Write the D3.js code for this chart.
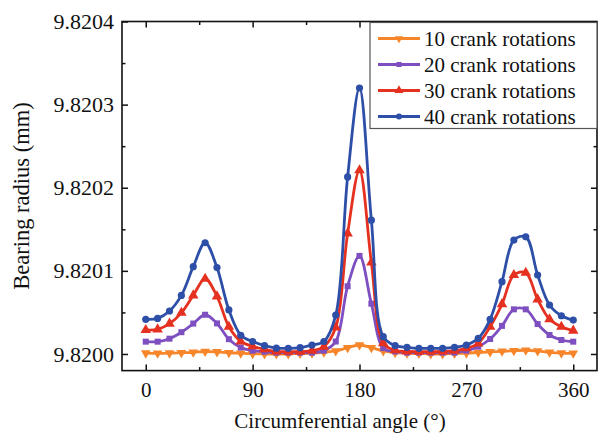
<!DOCTYPE html>
<html><head><meta charset="utf-8">
<script src="https://cdn.jsdelivr.net/npm/d3@7"></script>
<style>
body{margin:0;background:#fff}
svg{display:block}
text{font-family:"Liberation Serif","Times New Roman",serif;fill:#111}
</style>
</head><body>
<svg id="c" width="601" height="438"></svg>
<script>
// ---- data ----
const angles = [0,10,20,30,40,50,60,70,80,90,100,110,120,130,140,150,160,170,180,190,200,210,220,230,240,250,260,270,280,290,300,310,320,330,340,350,360];
const rot10 = [9.8200010,9.8200008,9.8200010,9.8200015,9.8200020,9.8200030,9.8200025,9.8200015,9.8200008,9.8200002,9.8200000,9.8200000,9.8200000,9.8200005,9.8200010,9.8200020,9.8200036,9.8200076,9.8200108,9.8200076,9.8200036,9.8200015,9.8200010,9.8200005,9.8200000,9.8200000,9.8200005,9.8200010,9.8200018,9.8200025,9.8200032,9.8200040,9.8200045,9.8200035,9.8200020,9.8200010,9.8200008];
const rot20 = [9.8200148,9.8200148,9.8200184,9.8200262,9.8200366,9.8200472,9.8200368,9.8200178,9.8200078,9.8200040,9.8200028,9.8200016,9.8200016,9.8200016,9.8200016,9.8200040,9.8200150,9.8200815,9.8201180,9.8200605,9.8200070,9.8200030,9.8200016,9.8200016,9.8200016,9.8200016,9.8200016,9.8200040,9.8200088,9.8200180,9.8200338,9.8200537,9.8200537,9.8200360,9.8200228,9.8200168,9.8200148];
const rot30 = [9.8200288,9.8200296,9.8200365,9.8200495,9.8200705,9.8200905,9.8200693,9.8200328,9.8200152,9.8200092,9.8200056,9.8200030,9.8200028,9.8200028,9.8200040,9.8200088,9.8200320,9.8201450,9.8202210,9.8201100,9.8200130,9.8200045,9.8200030,9.8200028,9.8200028,9.8200030,9.8200040,9.8200068,9.8200128,9.8200328,9.8200600,9.8200950,9.8200977,9.8200657,9.8200417,9.8200328,9.8200280];
const rot40 = [9.8200417,9.8200428,9.8200517,9.8200705,9.8201050,9.8201338,9.8201040,9.8200530,9.8200225,9.8200150,9.8200100,9.8200070,9.8200068,9.8200076,9.8200108,9.8200150,9.8200468,9.8202130,9.8203200,9.8201610,9.8200208,9.8200100,9.8200080,9.8200068,9.8200068,9.8200068,9.8200080,9.8200108,9.8200188,9.8200417,9.8200870,9.8201370,9.8201410,9.8200950,9.8200589,9.8200460,9.8200408];
const seriesNames = ["10 crank rotations","20 crank rotations","30 crank rotations","40 crank rotations"];
const seriesColors = ["#F7862A","#7D4FC0","#E5311F","#2E4FA8"];
const seriesMarkers = ["triDown","square","triUp","circle"];
const xTicks = [0,90,180,270,360];
const xMinor = [45,135,225,315];
const yTicks = [9.8200,9.8201,9.8202,9.8203,9.8204];
const yTickLabels = ["9.8200","9.8201","9.8202","9.8203","9.8204"];
const yMinor = [9.82005,9.82015,9.82025,9.82035];
const xTitle = "Circumferential angle (°)";
const yTitle = "Bearing radius (mm)";

const seriesValues = [rot10, rot20, rot30, rot40];

// ---- layout ----
const L = 122, R = 597, T = 21.5, B = 370.6;
const svg = d3.select("#c");
const x = d3.scaleLinear().domain([-20, 380]).range([L, R]);
const y = d3.scaleLinear().domain([9.81998, 9.8204]).range([B, T]);

const FS = 21;

function styleAxis(g){
  g.selectAll("path.domain").remove();
  g.selectAll("line").attr("stroke","#111").attr("stroke-width",1.5);
}
const gxB = svg.append("g").attr("transform",`translate(0,${B})`)
  .call(d3.axisBottom(x).tickValues(xTicks).tickSize(-6).tickSizeOuter(0).tickPadding(11).tickFormat(d3.format("d")));
styleAxis(gxB);
gxB.selectAll("text").attr("font-size",FS).style("font-family",'"Liberation Serif",serif').attr("fill","#111");
const gxBm = svg.append("g").attr("transform",`translate(0,${B})`)
  .call(d3.axisBottom(x).tickValues(xMinor).tickSize(-3.5).tickSizeOuter(0).tickFormat(""));
styleAxis(gxBm);
const gxT = svg.append("g").attr("transform",`translate(0,${T})`)
  .call(d3.axisTop(x).tickValues(xTicks).tickSize(-6).tickSizeOuter(0).tickFormat(""));
styleAxis(gxT);
const gxTm = svg.append("g").attr("transform",`translate(0,${T})`)
  .call(d3.axisTop(x).tickValues(xMinor).tickSize(-3.5).tickSizeOuter(0).tickFormat(""));
styleAxis(gxTm);

const gyL = svg.append("g").attr("transform",`translate(${L},0)`)
  .call(d3.axisLeft(y).tickValues(yTicks).tickSize(-6).tickSizeOuter(0).tickPadding(8).tickFormat((d,i)=>yTickLabels[i]));
styleAxis(gyL);
gyL.selectAll("text").attr("font-size",22).style("font-family",'"Liberation Serif",serif').attr("fill","#111");
const gyLm = svg.append("g").attr("transform",`translate(${L},0)`)
  .call(d3.axisLeft(y).tickValues(yMinor).tickSize(-3.5).tickSizeOuter(0).tickFormat(""));
styleAxis(gyLm);
const gyR = svg.append("g").attr("transform",`translate(${R},0)`)
  .call(d3.axisRight(y).tickValues(yTicks).tickSize(-6).tickSizeOuter(0).tickFormat(""));
styleAxis(gyR);
const gyRm = svg.append("g").attr("transform",`translate(${R},0)`)
  .call(d3.axisRight(y).tickValues(yMinor).tickSize(-3.5).tickSizeOuter(0).tickFormat(""));
styleAxis(gyRm);

svg.append("rect").attr("x",L).attr("y",T).attr("width",R-L).attr("height",B-T)
  .attr("fill","none").attr("stroke","#111").attr("stroke-width",1.6);

svg.append("text").attr("x",340).attr("y",428).attr("text-anchor","middle")
  .attr("font-size",FS).text(xTitle);
svg.append("text").attr("transform",`translate(29,${(T+B)/2}) rotate(-90)`)
  .attr("text-anchor","middle").attr("font-size",22.5).text(yTitle);

function marker(g, type, color, s){
  if(type==="circle"){
    g.append("circle").attr("r",3.6*s).attr("fill",color);
  } else if(type==="square"){
    const a=6*s; g.append("rect").attr("x",-a/2).attr("y",-a/2).attr("width",a).attr("height",a).attr("fill",color);
  } else if(type==="triUp"){
    g.append("path").attr("d",d3.symbol(d3.symbolTriangle, 48*s*s)()).attr("fill",color);
  } else if(type==="triDown"){
    g.append("path").attr("d",d3.symbol(d3.symbolTriangle, 40*s*s)()).attr("transform","rotate(180)").attr("fill",color);
  }
}

const line = d3.line().x((d,i)=>x(angles[i])).y(d=>y(d)).curve(d3.curveCatmullRom.alpha(0.5));

seriesValues.forEach((vals, si)=>{
  const g = svg.append("g");
  g.append("path").attr("d", line(vals)).attr("fill","none")
    .attr("stroke", seriesColors[si]).attr("stroke-width",2.8).attr("stroke-linejoin","round");
  vals.forEach((v,i)=>{
    const mg = g.append("g").attr("transform",`translate(${x(angles[i])},${y(v)})`);
    marker(mg, seriesMarkers[si], seriesColors[si], 1);
  });
});

const lg = svg.append("g");
lg.append("rect").attr("x",370).attr("y",22.5).attr("width",R-370).attr("height",106)
  .attr("fill","#fff").attr("stroke","#555").attr("stroke-width",1.2);
seriesNames.forEach((name,i)=>{
  const cy = 38.5 + i*26;
  lg.append("line").attr("x1",378).attr("x2",420).attr("y1",cy).attr("y2",cy)
    .attr("stroke",seriesColors[i]).attr("stroke-width",2.8);
  const mg = lg.append("g").attr("transform",`translate(399,${cy})`);
  marker(mg, seriesMarkers[i], seriesColors[i], 0.85);
  lg.append("text").attr("x",424).attr("y",cy).attr("dy","0.35em").attr("font-size",FS).text(name);
});
</script>
</body></html>
